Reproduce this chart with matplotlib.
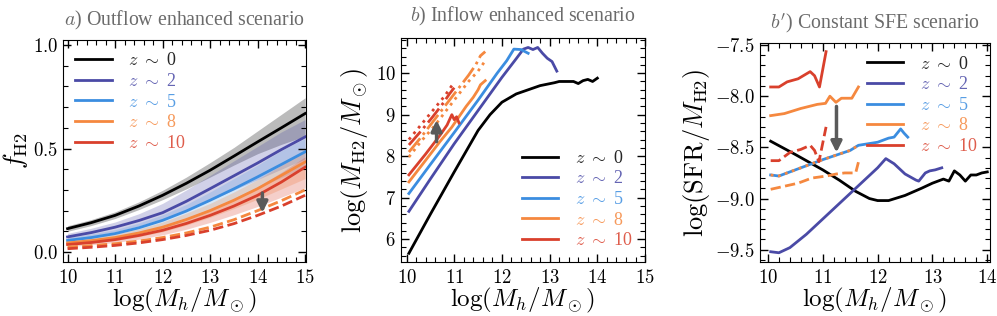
"""
Three panels: H2 fraction, H2 mass and SFR/M_H2 against halo mass,
for the outflow-enhanced, inflow-enhanced and constant-SFE scenarios.
"""

import numpy as np
import matplotlib.pyplot as plt
from matplotlib.ticker import MultipleLocator, FuncFormatter

plt.rcParams["font.family"] = "serif"
plt.rcParams["font.serif"] = ["Liberation Serif", "DejaVu Serif"]
plt.rcParams["mathtext.fontset"] = "cm"

labels = ["0", "2", "5", "8", "10"]
colors = ["#000000", "#4a4aa6", "#3b8de0", "#f5883f", "#d9402c"]

# ---- panel a: f_H2 (outflow enhanced)
xa = [10.0, 10.5, 11.0, 11.5, 12.0, 12.5, 13.0, 13.5, 14.0, 14.5, 15.0]
fa = {
    "0": [0.113, 0.142, 0.177, 0.222, 0.274, 0.332, 0.395, 0.463, 0.532, 0.600, 0.669],
    "2": [0.073, 0.094, 0.120, 0.152, 0.190, 0.245, 0.306, 0.368, 0.430, 0.495, 0.556],
    "5": [0.056, 0.070, 0.089, 0.117, 0.153, 0.198, 0.250, 0.305, 0.363, 0.423, 0.484],
    "8": [0.044, 0.055, 0.070, 0.092, 0.120, 0.157, 0.200, 0.250, 0.306, 0.370, 0.435],
    "10": [0.036, 0.046, 0.060, 0.080, 0.105, 0.138, 0.177, 0.222, 0.274, 0.338, 0.410],
}
fa_lo = {
    "0": [0.100, 0.128, 0.162, 0.205, 0.253, 0.305, 0.362, 0.420, 0.475, 0.520, 0.560],
    "2": [0.058, 0.076, 0.098, 0.126, 0.160, 0.200, 0.250, 0.300, 0.350, 0.400, 0.450],
    "5": [0.045, 0.057, 0.074, 0.098, 0.128, 0.166, 0.210, 0.260, 0.310, 0.360, 0.410],
    "8": [0.034, 0.043, 0.055, 0.074, 0.098, 0.130, 0.168, 0.210, 0.255, 0.305, 0.355],
    "10": [0.026, 0.035, 0.046, 0.062, 0.083, 0.110, 0.143, 0.180, 0.220, 0.265, 0.310],
}
fa_hi = {
    "0": [0.127, 0.157, 0.194, 0.242, 0.298, 0.362, 0.432, 0.505, 0.585, 0.665, 0.745],
    "2": [0.090, 0.115, 0.145, 0.185, 0.235, 0.300, 0.370, 0.440, 0.510, 0.580, 0.640],
    "5": [0.070, 0.087, 0.108, 0.140, 0.180, 0.230, 0.290, 0.355, 0.420, 0.490, 0.550],
    "8": [0.056, 0.069, 0.087, 0.112, 0.145, 0.188, 0.235, 0.290, 0.350, 0.420, 0.490],
    "10": [0.046, 0.058, 0.075, 0.098, 0.127, 0.165, 0.210, 0.260, 0.315, 0.385, 0.460],
}
fa_dash8 = [0.024, 0.031, 0.040, 0.053, 0.070, 0.092, 0.120, 0.156, 0.200, 0.248, 0.300]
fa_dash10 = [0.016, 0.023, 0.032, 0.044, 0.060, 0.080, 0.105, 0.137, 0.177, 0.222, 0.274]

# ---- panel b: log M_H2 (inflow enhanced)
xb = {
    "0": [10.05, 10.5, 11.0, 11.5, 11.75, 12.0, 12.3, 12.6, 12.8, 13.1, 13.2, 13.4,
          13.5, 13.6, 13.7, 13.8, 13.9, 14.0],
    "2": [10.05, 10.5, 11.0, 11.5, 12.0, 12.3, 12.45, 12.55, 12.65, 12.75, 12.85,
          12.95, 13.05, 13.15],
    "5": [10.05, 10.5, 11.0, 11.5, 11.9, 12.1, 12.25, 12.4, 12.55],
    "8": [10.05, 10.4, 10.7, 10.95, 11.1, 11.25, 11.4, 11.5, 11.55, 11.65],
    "10": [10.05, 10.4, 10.7, 10.85, 10.95, 11.0, 11.05, 11.1],
}
mb = {
    "0": [5.66, 6.6, 7.62, 8.62, 9.0, 9.3, 9.5, 9.62, 9.7, 9.77, 9.8, 9.8,
          9.8, 9.75, 9.82, 9.85, 9.8, 9.88],
    "2": [6.67, 7.45, 8.3, 9.1, 9.9, 10.35, 10.58, 10.62, 10.57, 10.62, 10.48,
          10.36, 10.28, 10.05],
    "5": [7.1, 7.8, 8.57, 9.35, 10.0, 10.3, 10.58, 10.57, 10.48],
    "8": [7.38, 7.9, 8.35, 8.7, 8.95, 9.2, 9.42, 9.6, 9.72, 9.82],
    "10": [7.55, 8.05, 8.5, 8.75, 9.0, 8.88, 8.95, 8.8],
}
xb_dd8 = [10.05, 10.3, 10.6, 10.9, 11.1, 11.3, 11.45, 11.55, 11.65]
mb_dd8 = [8.1, 8.45, 8.9, 9.35, 9.65, 9.95, 10.2, 10.42, 10.52]
xb_dot8 = [10.05, 10.3, 10.6, 10.9, 11.1, 11.3, 11.5, 11.65]
mb_dot8 = [7.98, 8.35, 8.75, 9.2, 9.5, 9.8, 10.05, 10.3]
xb_dd10 = [10.05, 10.3, 10.55, 10.75, 10.9, 11.0]
mb_dd10 = [8.27, 8.6, 8.95, 9.25, 9.5, 9.65]
xb_dot10 = [10.05, 10.3, 10.55, 10.8, 10.95, 11.0]
mb_dot10 = [8.4, 8.75, 9.1, 9.45, 9.7, 9.78]

# ---- panel b': log SFR/M_H2 (constant SFE)
xc = {
    "0": [10.05, 10.5, 11.0, 11.3, 11.6, 11.85, 12.0, 12.2, 12.5, 12.8, 13.0, 13.2,
          13.3, 13.4, 13.5, 13.6, 13.7, 13.8, 13.9, 14.0],
    "2": [10.05, 10.2, 10.4, 10.7, 11.0, 11.5, 12.0, 12.15, 12.3, 12.5, 12.7, 12.75,
          12.87, 12.95, 13.05, 13.17],
    "5": [10.05, 10.2, 10.5, 11.0, 11.5, 11.65, 12.0, 12.2, 12.3, 12.42, 12.48, 12.55],
    "8": [10.05, 10.3, 10.6, 10.9, 11.05, 11.13, 11.24, 11.34, 11.53, 11.65],
    "10": [10.05, 10.2, 10.35, 10.55, 10.77, 10.85, 10.94, 11.06],
}
rc = {
    "0": [-8.44, -8.57, -8.72, -8.82, -8.93, -9.0, -9.02, -9.02, -8.97, -8.9, -8.85,
          -8.81, -8.83, -8.73, -8.77, -8.83, -8.77, -8.77, -8.75, -8.74],
    "2": [-9.52, -9.53, -9.48, -9.35, -9.2, -8.95, -8.7, -8.61, -8.66, -8.76, -8.82,
          -8.83, -8.75, -8.73, -8.72, -8.70],
    "5": [-8.77, -8.78, -8.72, -8.62, -8.53, -8.48, -8.45, -8.41, -8.40, -8.32, -8.36,
          -8.40],
    "8": [-8.19, -8.17, -8.12, -8.08, -8.07, -8.0, -8.06, -8.02, -8.02, -7.91],
    "10": [-7.91, -7.91, -7.86, -7.83, -7.76, -7.8, -7.91, -7.565],
}
xc_dot8 = [10.05, 10.2, 10.5, 11.0, 11.5, 11.65]
rc_dot8 = [-8.77, -8.78, -8.72, -8.62, -8.53, -8.48]
xc_dash8 = [10.05, 10.3, 10.55, 10.8, 11.07, 11.25, 11.4, 11.6, 11.65]
rc_dash8 = [-8.91, -8.88, -8.85, -8.80, -8.78, -8.76, -8.75, -8.75, -8.645]
xc_dash10 = [10.05, 10.2, 10.4, 10.6, 10.77, 10.85, 10.93, 11.06]
rc_dash10 = [-8.63, -8.63, -8.55, -8.52, -8.48, -8.53, -8.64, -8.30]

LW = 2.0
TITLE_COLOR = "#6b6b6b"
ARROW_COLOR = "#5a5a5a"


def style_axes(ax, xmaj, xmin, ymaj, ymin, fmt):
    ax.xaxis.set_major_locator(MultipleLocator(xmaj))
    ax.xaxis.set_minor_locator(MultipleLocator(xmin))
    ax.yaxis.set_major_locator(MultipleLocator(ymaj))
    ax.yaxis.set_minor_locator(MultipleLocator(ymin))
    ax.xaxis.set_major_formatter(FuncFormatter(lambda v, p: "$%d$" % round(v)))
    ax.yaxis.set_major_formatter(FuncFormatter(lambda v, p: "$" + fmt % v + "$"))
    ax.tick_params(which="both", direction="in", top=True, right=True, labelsize=13.5)
    ax.tick_params(which="major", length=6, width=1)
    ax.tick_params(which="minor", length=3.5, width=0.8)
    ax.tick_params(axis="x", pad=5)
    ax.set_xlabel(r"$\log(M_h/M_\odot)$", fontsize=18, labelpad=-1)


def add_legend(ax, loc, **kw):
    leg = ax.legend(loc=loc, frameon=False, fontsize=13, handlelength=2.0,
                    handletextpad=0.9, labelspacing=0.2, **kw)
    for txt, c in zip(leg.get_texts(), colors):
        txt.set_color(c)
        txt.set_alpha(0.85)


def arrow(ax, x, y0, y1):
    ax.annotate("", xy=(x, y1), xytext=(x, y0),
                arrowprops=dict(arrowstyle="-|>", color=ARROW_COLOR, lw=2.5,
                                mutation_scale=16, shrinkA=0, shrinkB=0))


fig = plt.figure(figsize=(9.97, 3.16), dpi=100)
ax1 = fig.add_axes([0.063, 0.171, 0.244, 0.703])
ax2 = fig.add_axes([0.402, 0.171, 0.245, 0.709])
ax3 = fig.add_axes([0.762, 0.171, 0.231, 0.693])

# panel a
band_alpha = {"0": 0.4, "2": 0.25, "5": 0.2, "8": 0.25, "10": 0.25}
for lab, c in zip(labels, colors):
    fc = "#555555" if lab == "0" else c
    ax1.fill_between(xa, fa_lo[lab], fa_hi[lab], color=fc, alpha=band_alpha[lab], lw=0)
for lab, c in zip(labels, colors):
    ax1.plot(xa, fa[lab], color=c, lw=LW, label=r"$z\ \sim$ " + lab)
ax1.plot(xa, fa_dash8, color=colors[3], lw=LW, ls="--")
ax1.plot(xa, fa_dash10, color=colors[4], lw=LW, ls="--")
arrow(ax1, 14.1, 0.285, 0.19)
ax1.set_xlim(9.9, 15.02)
ax1.set_ylim(-0.048, 1.025)
style_axes(ax1, 1, 0.2, 0.5, 0.1, "%.1f")
ax1.set_ylabel(r"$f_{\rm H2}$", fontsize=19, labelpad=2)
add_legend(ax1, "upper left", borderaxespad=0.3)
ax1.set_title(r"$a$) Outflow enhanced scenario", fontsize=14.3, color=TITLE_COLOR, pad=10)

# panel b
for lab, c in zip(labels, colors):
    ax2.plot(xb[lab], mb[lab], color=c, lw=LW, label=r"$z\ \sim$ " + lab)
ax2.plot(xb_dd8, mb_dd8, color=colors[3], lw=LW, ls="-.")
ax2.plot(xb_dot8, mb_dot8, color=colors[3], lw=LW, ls=":")
ax2.plot(xb_dd10, mb_dd10, color=colors[4], lw=LW, ls="-.")
ax2.plot(xb_dot10, mb_dot10, color=colors[4], lw=LW, ls=":")
arrow(ax2, 10.63, 8.35, 8.87)
ax2.set_xlim(9.88, 15.0)
ax2.set_ylim(5.45, 10.85)
style_axes(ax2, 1, 0.2, 1, 0.2, "%.0f")
ax2.set_ylabel(r"$\log(M_{\rm H2}/M_\odot)$", fontsize=19, labelpad=4)
add_legend(ax2, "lower right", borderaxespad=0.3)
ax2.set_title(r"$b$) Inflow enhanced scenario", fontsize=14.3, color=TITLE_COLOR, pad=12)

# panel b'
for lab, c in zip(labels, colors):
    ax3.plot(xc[lab], rc[lab], color=c, lw=LW, label=r"$z\ \sim$ " + lab)
ax3.plot(xc_dot8, rc_dot8, color=colors[3], lw=LW, ls=":")
ax3.plot(xc_dash8, rc_dash8, color=colors[3], lw=LW, ls="--")
ax3.plot(xc_dash10, rc_dash10, color=colors[4], lw=LW, ls="--")
arrow(ax3, 11.25, -8.1, -8.55)
ax3.set_xlim(9.85, 14.05)
ax3.set_ylim(-9.62, -7.48)
style_axes(ax3, 1, 0.2, 0.5, 0.1, "%.1f")
ax3.set_ylabel(r"$\log({\rm SFR}/M_{\rm H2})$", fontsize=19, labelpad=2)
add_legend(ax3, "upper right", borderaxespad=0.3)
ax3.set_title(r"$b'$) Constant SFE scenario", fontsize=14.3, color=TITLE_COLOR, pad=10)

fig.savefig("out.png", dpi=100)
